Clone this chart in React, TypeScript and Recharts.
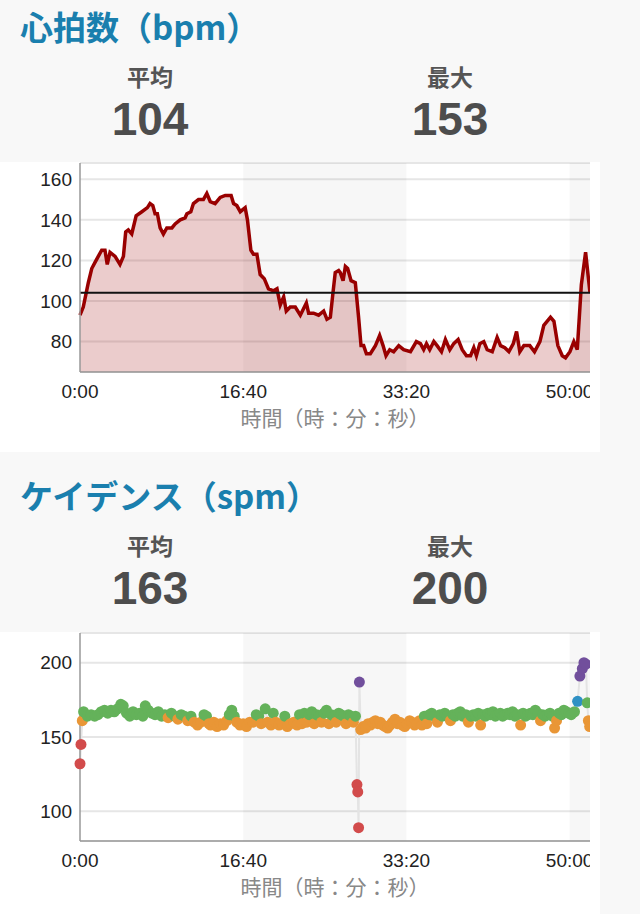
import React from 'react'
import {
  ComposedChart, Area, Line, XAxis, YAxis, CartesianGrid,
  ReferenceLine, ReferenceArea,
} from 'recharts'

// heart rate, seconds from start / bpm
const hrTimes = [
  0, 20, 51, 72, 92, 112, 133, 153, 167, 184,
  215, 245, 266, 280, 296, 317, 344, 379, 413, 429,
  446, 460, 474, 491, 511, 532, 563, 583, 614, 644,
  655, 679, 695, 726, 756, 777, 798, 828, 859, 890,
  910, 926, 941, 961, 982, 1012, 1026, 1047, 1063, 1084,
  1104, 1129, 1155, 1186, 1207, 1227, 1248, 1264, 1288, 1319,
  1350, 1387, 1401, 1431, 1462, 1493, 1513, 1534, 1550, 1564,
  1585, 1595, 1612, 1626, 1640, 1661, 1687, 1707, 1722, 1738,
  1755, 1779, 1810, 1836, 1857, 1875, 1898, 1922, 1953, 1983,
  2025, 2061, 2086, 2106, 2123, 2143, 2168, 2188, 2215, 2239,
  2266, 2290, 2317, 2342, 2368, 2393, 2413, 2429, 2450, 2474,
  2495, 2526, 2556, 2577, 2603, 2628, 2655, 2675, 2695, 2720,
  2756, 2785, 2818, 2842, 2883, 2904, 2928, 2955, 2975, 3002,
  3026, 3047, 3072, 3098, 3125,
]
const hrValues = [
  93, 97, 109, 116, 119, 122, 125, 125, 118, 124,
  122, 118, 122, 134, 135, 133, 142, 144, 146, 148,
  147, 143, 143, 136, 133, 136, 136, 138, 140, 141,
  143, 144, 148, 150, 150, 153, 149, 148, 151, 152,
  152, 152, 148, 147, 144, 146, 140, 125, 123, 123,
  113, 111, 106, 105, 106, 98, 102, 95, 97, 97,
  93, 99, 94, 94, 93, 95, 91, 92, 104, 114,
  115, 114, 110, 117, 116, 110, 109, 92, 78, 78,
  74, 74, 78, 83, 78, 73, 76, 75, 78, 76,
  75, 80, 79, 76, 79, 76, 80, 78, 75, 81,
  76, 79, 81, 76, 73, 73, 77, 73, 79, 80,
  76, 75, 82, 78, 77, 75, 79, 85, 75, 78,
  78, 75, 80, 88, 92, 90, 78, 73, 72, 75,
  80, 76, 108, 124, 104,
]
const hrAvg = 104
const hrMax = 153
const hrTicks = [80, 100, 120, 140, 160]

// cadence, seconds from start / spm
const cadTimes = [
  0, 6, 14, 22, 45, 68, 90, 110, 130, 150,
  170, 190, 210, 230, 250, 265, 285, 305, 325, 345,
  365, 385, 400, 418, 440, 460, 480, 500, 520, 540,
  560, 580, 600, 620, 640, 660, 680, 700, 720, 740,
  760, 775, 790, 800, 820, 840, 860, 880, 900, 915,
  930, 945, 960, 980, 1000, 1020, 1040, 1060, 1080, 1095,
  1110, 1135, 1150, 1170, 1184, 1200, 1220, 1240, 1255, 1270,
  1290, 1310, 1330, 1345, 1360, 1375, 1390, 1405, 1420, 1435,
  1450, 1465, 1480, 1495, 1510, 1525, 1540, 1555, 1570, 1585,
  1600, 1615, 1630, 1645, 1660, 1675, 1688, 1697, 1702, 1707,
  1712, 1720, 1735, 1750, 1765, 1780, 1795, 1810, 1825, 1840,
  1855, 1870, 1885, 1900, 1915, 1930, 1945, 1960, 1975, 1990,
  2005, 2020, 2035, 2050, 2065, 2080, 2095, 2110, 2125, 2140,
  2155, 2170, 2190, 2205, 2220, 2235, 2250, 2270, 2285, 2300,
  2315, 2330, 2345, 2365, 2380, 2395, 2410, 2425, 2440, 2455,
  2470, 2485, 2500, 2515, 2530, 2545, 2560, 2575, 2590, 2605,
  2620, 2635, 2650, 2665, 2680, 2700, 2715, 2730, 2745, 2760,
  2775, 2790, 2805, 2822, 2835, 2850, 2865, 2880, 2895, 2908,
  2920, 2935, 2950, 2965, 2980, 2995, 3010, 3030, 3049, 3063,
  3078, 3088, 3100, 3108, 3115, 3123,
]
const cadValues = [
  132, 145, 161, 167, 164, 165, 164, 165, 167, 168,
  166, 168, 167, 169, 172, 171, 166, 164, 167, 165,
  166, 164, 171, 168, 166, 165, 167, 164, 165, 163,
  166, 164, 162, 165, 164, 161, 164, 160, 158, 160,
  165, 164, 159, 158, 160, 157, 159, 158, 161, 165,
  168, 164, 160, 158, 159, 157, 160, 160, 165, 164,
  159, 169, 160, 158, 166, 160, 158, 159, 164, 157,
  159, 160, 158, 165, 159, 166, 160, 165, 167, 159,
  165, 164, 160, 166, 168, 159, 165, 164, 160, 166,
  165, 164, 159, 165, 164, 160, 164, 118, 113, 89,
  187, 155, 157, 156, 159, 158, 160, 161, 159, 160,
  158, 157, 156, 158, 160, 162, 159, 160, 158, 157,
  159, 161, 160, 158, 159, 161, 158, 164, 159, 165,
  166, 164, 160, 165, 164, 166, 164, 161, 165, 164,
  166, 167, 164, 165, 160, 164, 165, 164, 166, 158,
  165, 164, 166, 165, 167, 164, 165, 166, 164, 165,
  166, 165, 167, 164, 165, 158, 166, 164, 165, 166,
  165, 168, 166, 161, 165, 164, 165, 166, 164, 156,
  161, 166, 165, 168, 167, 166, 165, 167, 174, 191,
  196, 200, 199, 173, 161, 157,
]
const cadAvg = 163
const cadMax = 200
const cadTicks = [100, 150, 200]

const timeTicks = [0, 1000, 2000, 3000]
const shadedBands = [[1000, 2000], [3000, 3125]]

const hrData = hrTimes.map((t, i) => ({ t, v: hrValues[i] }))
const cadData = cadTimes.map((t, i) => ({ t, v: cadValues[i] }))

const FONT_JA = '"Noto Sans CJK JP", "Noto Sans", sans-serif'
const FONT_NUM = '"Liberation Sans", Arial, sans-serif'

const fmtTime = (s: number) => `${Math.floor(s / 60)}:${String(s % 60).padStart(2, '0')}`

function cadColor(v: number) {
  if (v >= 184) return '#714f9c'
  if (v >= 174) return '#2e90c4'
  if (v >= 164) return '#64b25a'
  if (v >= 153) return '#e99636'
  return '#d24b4b'
}

const CadDot = (p: any) => {
  const { cx, cy, payload, index } = p
  if (cx == null || cy == null) return <g key={`d${index}`} />
  return <circle key={`d${index}`} cx={cx} cy={cy} r={5.5} fill={cadColor(payload.v)} />
}

const tickStyle = { fontSize: 19, fill: '#222', fontFamily: FONT_NUM }
const axisStyle = { stroke: '#999', strokeWidth: 1.5 }
const axisLabel = {
  value: '時間（時：分：秒）', position: 'insideBottom' as const, offset: 6,
  fill: '#888', fontSize: 21, fontFamily: FONT_JA,
}

function Header({ title, avg, max, top }: { title: string; avg: number; max: number; top: number }) {
  const stat = (label: string, value: number, cx: number) => (
    <>
      <div style={{
        position: 'absolute', left: cx - 60, width: 120, top: top + 55, textAlign: 'center',
        fontFamily: FONT_JA, fontSize: 23, fontWeight: 700, color: '#555', lineHeight: 1,
      }}>{label}</div>
      <div style={{
        position: 'absolute', left: cx - 80, width: 160, top: top + 86, textAlign: 'center',
        fontFamily: FONT_NUM, fontSize: 46, fontWeight: 700, color: '#4d4d4d', lineHeight: 1,
      }}>{value}</div>
    </>
  )
  return (
    <>
      <div style={{
        position: 'absolute', left: 20, top, fontFamily: FONT_JA, fontSize: 33,
        fontWeight: 700, color: '#1a7fae', lineHeight: 1, whiteSpace: 'nowrap',
      }}>{title}</div>
      {stat('平均', avg, 150)}
      {stat('最大', max, 450)}
    </>
  )
}

export default function App() {
  return (
    <div style={{ position: 'relative', width: 640, height: 914, background: '#f8f8f8', overflow: 'hidden' }}>
      <style>{'body{margin:0}'}</style>

      <Header title="心拍数（bpm）" avg={hrAvg} max={hrMax} top={10} />
      <div style={{ position: 'absolute', left: 0, top: 162, width: 600, height: 290, background: '#fff' }}>
        <ComposedChart width={590} height={270} data={hrData} margin={{ top: 1, right: 0, left: 0, bottom: 0 }}>
          <CartesianGrid vertical={false} stroke="#e6e6e6" strokeWidth={2} />
          {shadedBands.map(([a, b]) => (
            <ReferenceArea key={a} x1={a} x2={b} fill="#000" fillOpacity={0.03} stroke="none" />
          ))}
          <XAxis
            dataKey="t" type="number" domain={[0, 3125]} ticks={timeTicks} interval={0}
            tickFormatter={fmtTime} tick={tickStyle} axisLine={axisStyle} tickLine={false}
            tickMargin={7} height={60} label={axisLabel}
          />
          <YAxis
            type="number" domain={[65, 168]} ticks={hrTicks} interval={0} width={80}
            tick={tickStyle} axisLine={axisStyle} tickLine={false} allowDataOverflow
          />
          <Area
            dataKey="v" type="linear" stroke="#990000" strokeWidth={3.5}
            fill="#990000" fillOpacity={0.2} dot={false} activeDot={false}
            isAnimationActive={false}
          />
          <ReferenceLine y={hrAvg} stroke="#111" strokeWidth={2} />
        </ComposedChart>
      </div>

      <Header title="ケイデンス（spm）" avg={cadAvg} max={cadMax} top={479} />
      <div style={{ position: 'absolute', left: 0, top: 632, width: 600, height: 282, background: '#fff' }}>
        <ComposedChart width={590} height={269} data={cadData} margin={{ top: 1, right: 0, left: 0, bottom: 0 }}>
          <CartesianGrid vertical={false} stroke="#e6e6e6" strokeWidth={2} />
          {shadedBands.map(([a, b]) => (
            <ReferenceArea key={a} x1={a} x2={b} fill="#000" fillOpacity={0.03} stroke="none" />
          ))}
          <XAxis
            dataKey="t" type="number" domain={[0, 3125]} ticks={timeTicks} interval={0}
            tickFormatter={fmtTime} tick={tickStyle} axisLine={axisStyle} tickLine={false}
            tickMargin={7} height={60} label={axisLabel}
          />
          <YAxis
            type="number" domain={[80, 220]} ticks={cadTicks} interval={0} width={80}
            tick={tickStyle} axisLine={axisStyle} tickLine={false} allowDataOverflow
          />
          <Line
            dataKey="v" type="linear" stroke="#e4e4e4" strokeWidth={2}
            dot={CadDot} activeDot={false} isAnimationActive={false}
          />
        </ComposedChart>
      </div>
    </div>
  )
}
